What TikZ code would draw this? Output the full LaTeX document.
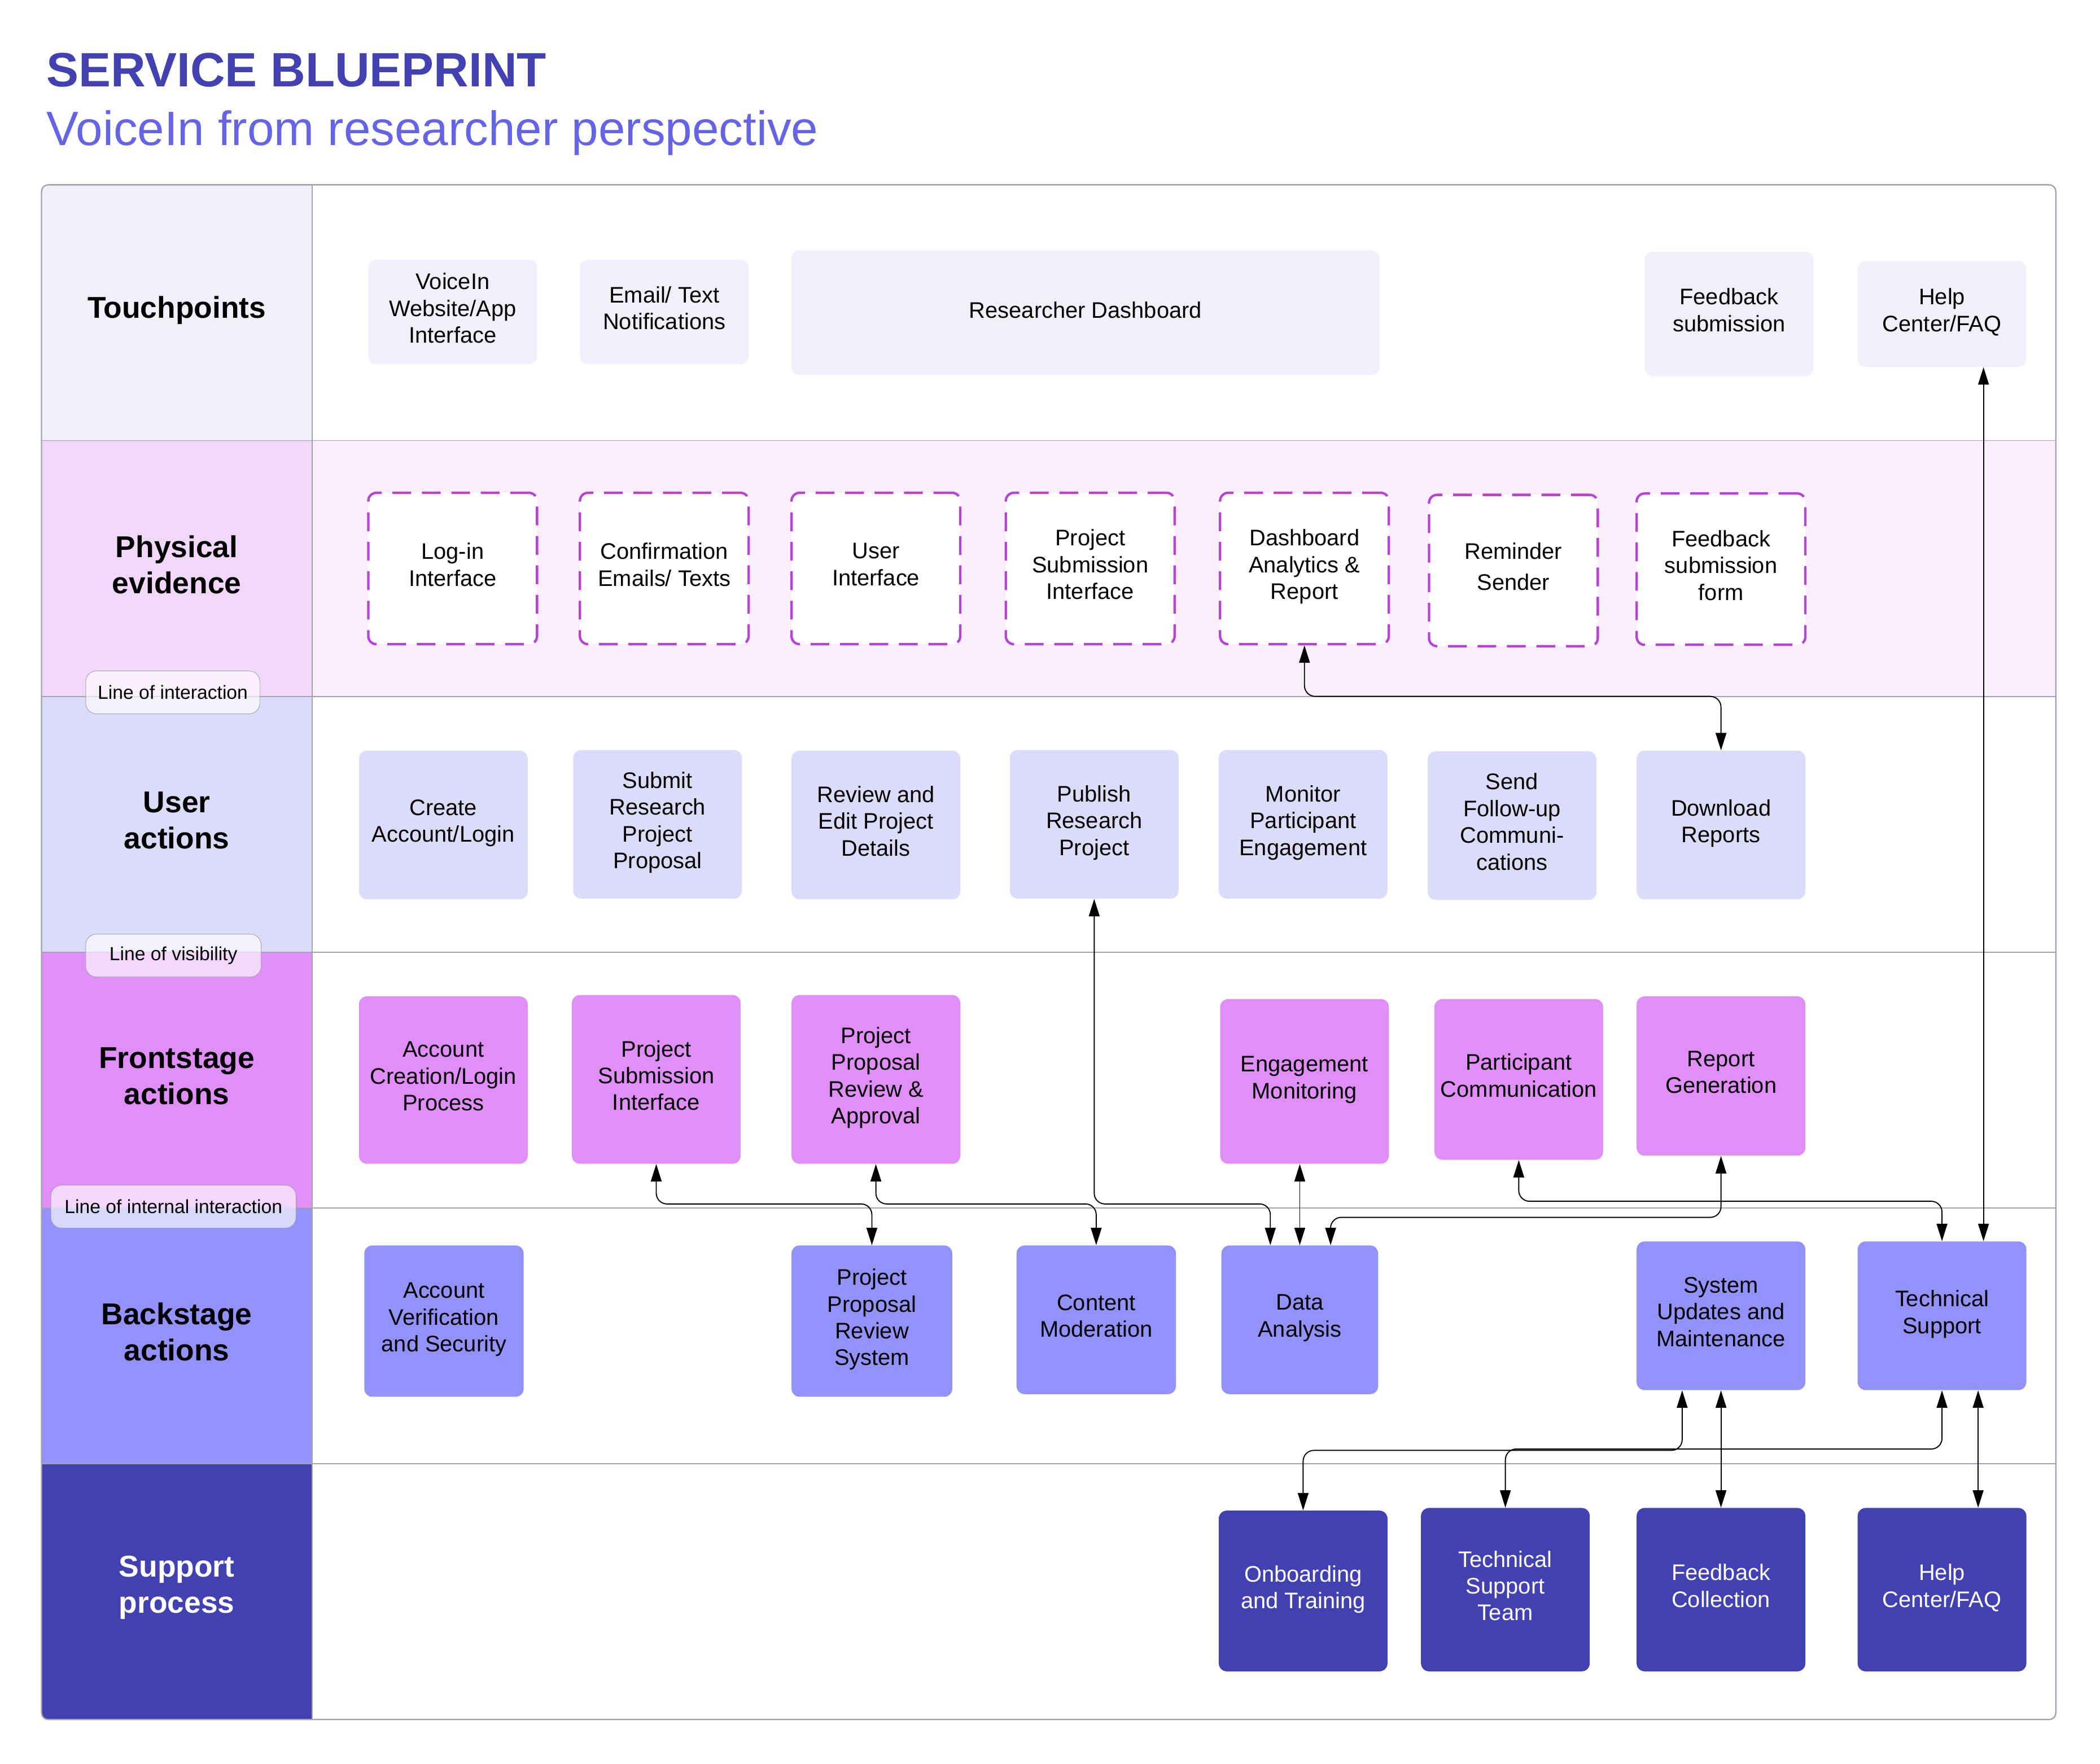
\documentclass[tikz,border=0pt]{standalone}
\usepackage{fontspec}
\setmainfont{Liberation Sans}
\usetikzlibrary{arrows.meta}

\definecolor{titlecol}{HTML}{4141B2}
\definecolor{subcol}{HTML}{6563E6}
\definecolor{gridcol}{HTML}{A3A3AE}
\definecolor{tpcol}{HTML}{F0F0FA}
\definecolor{pecol}{HTML}{F1D7FA}
\definecolor{pebg}{HTML}{FAEEFC}
\definecolor{pedash}{HTML}{B443D6}
\definecolor{uacol}{HTML}{DCDCFA}
\definecolor{fscol}{HTML}{E08FF8}
\definecolor{bscol}{HTML}{9292FA}
\definecolor{spcol}{HTML}{4141B2}

\tikzset{
  box/.style={rounded corners=6pt, align=center, inner sep=2pt,
    font=\fontsize{16.8}{20}\selectfont, minimum width=126pt,
    execute at end node=\strut},
  tpbox/.style={box, fill=tpcol},
  pebox/.style={box, fill=white, draw=pedash, line width=1.8pt,
    dash pattern=on 14pt off 8pt, minimum height=113pt},
  uabox/.style={box, fill=uacol, minimum height=111pt},
  fsbox/.style={box, fill=fscol},
  bsbox/.style={box, fill=bscol},
  spbox/.style={box, fill=spcol, text=white, minimum height=122pt},
  lane/.style={align=center, font=\fontsize{22.5}{27}\selectfont\bfseries},
  divider/.style={fill=white, fill opacity=0.65, text opacity=1, draw=gridcol,
    rounded corners=8pt, font=\fontsize{14.2}{16}\selectfont, minimum height=32pt},
  flow/.style={{Triangle[length=13pt,width=8pt]}-{Triangle[length=13pt,width=8pt]},
    line width=0.8pt, rounded corners=8pt}
}

\begin{document}
\begin{tikzpicture}[x=1pt, y=-1pt]
  \useasboundingbox (0,0) rectangle (1568,1317);

  \node[anchor=base west, inner sep=0pt, text=titlecol,
    font=\fontsize{36}{40}\selectfont\bfseries] (title) at (34.5,64.5) {SERVICE BLUEPRINT};
  \node[anchor=base west, inner sep=0pt, text=subcol,
    font=\fontsize{36}{40}\selectfont] (subtitle) at (34.5,108.5) {VoiceIn from researcher perspective};

  \begin{scope}
    \clip[rounded corners=5pt] (31,138) rectangle (1535,1284);
    \fill[tpcol] (31,138) rectangle (233,329);
    \fill[pecol] (31,329) rectangle (233,520);
    \fill[pebg] (233,329) rectangle (1535,520);
    \fill[uacol] (31,520) rectangle (233,711);
    \fill[fscol] (31,711) rectangle (233,902);
    \fill[bscol] (31,902) rectangle (233,1093);
    \fill[spcol] (31,1093) rectangle (233,1284);
  \end{scope}
  \foreach \y in {329,520,711,902,1093}
    \draw[gridcol, line width=0.7pt] (31,\y) -- (1535,\y);
  \draw[gridcol, line width=0.7pt] (233,138) -- (233,1284);
  \draw[gridcol, line width=1pt, rounded corners=5pt] (31,138) rectangle (1535,1284);

  \node[lane] (lTouch) at (132,231.5) {Touchpoints};
  \node[lane] (lPhys) at (132,421.5) {Physical\\evidence};
  \node[lane] (lUser) at (132,612.5) {User\\actions};
  \node[lane] (lFront) at (132,803.5) {Frontstage\\actions};
  \node[lane] (lBack) at (132,994.5) {Backstage\\actions};
  \node[lane, text=white] (lSupport) at (132,1185.5) {Support\\process};

  \node[divider, minimum width=130pt] (lineInter) at (129,517) {Line of interaction};
  \node[divider, minimum width=131pt] (lineVis) at (129.5,713.5) {Line of visibility};
  \node[divider, minimum width=183pt] (lineIntern) at (129.5,901) {Line of internal interaction};

  \node[tpbox, minimum height=78pt] (tpWeb) at (338,233) {VoiceIn\\Website/App\\Interface};
  \node[tpbox, minimum height=78pt] (tpMail) at (496,233) {Email/ Text\\Notifications};
  \node[tpbox, minimum width=439pt, minimum height=93pt] (tpDash) at (810.5,233.5) {Researcher Dashboard};
  \node[tpbox, minimum height=93pt] (tpFeed) at (1291,234.5) {Feedback\\submission};
  \node[tpbox, minimum height=79pt] (tpHelp) at (1450,234.5) {Help\\Center/FAQ};

  \node[pebox] (peLogin) at (338,424.5) {Log-in\\Interface};
  \node[pebox] (peConf) at (496,424.5) {Confirmation\\Emails/ Texts};
  \node[pebox] (peUI) at (654,424.5) {User\\Interface};
  \node[pebox] (peProj) at (814,424.5) {Project\\Submission\\Interface};
  \node[pebox] (peDash) at (974,424.5) {Dashboard\\Analytics \&\\Report};
  \node[pebox] (peRemind) at (1130,426) {Reminder\\[3pt]Sender};
  \node[pebox] (peFeed) at (1285,425) {Feedback\\submission\\form};

  \node[uabox] (uaCreate) at (331,616) {Create\\Account/Login};
  \node[uabox] (uaSubmit) at (491,615.5) {Submit\\Research\\Project\\Proposal};
  \node[uabox] (uaReview) at (654,616) {Review and\\Edit Project\\Details};
  \node[uabox] (uaPublish) at (817,615.5) {Publish\\Research\\Project};
  \node[uabox] (uaMonitor) at (973,615.5) {Monitor\\Participant\\Engagement};
  \node[uabox] (uaSend) at (1129,616.5) {Send\\Follow-up\\Communi-\\cations};
  \node[uabox] (uaDownload) at (1285,616) {Download\\Reports};

  \node[fsbox, minimum height=125pt] (fsAccount) at (331,806.5) {Account\\Creation/Login\\Process};
  \node[fsbox, minimum height=126pt] (fsSubmit) at (490,806) {Project\\Submission\\Interface};
  \node[fsbox, minimum height=126pt] (fsReview) at (654,806) {Project\\Proposal\\Review \&\\Approval};
  \node[fsbox, minimum height=123pt] (fsEngage) at (974,807.5) {Engagement\\Monitoring};
  \node[fsbox, minimum height=120pt] (fsComm) at (1134,806) {Participant\\Communication};
  \node[fsbox, minimum height=119pt] (fsReport) at (1285,803.5) {Report\\Generation};

  \node[bsbox, minimum width=119pt, minimum height=113pt] (bsAccount) at (331.5,986.5) {Account\\Verification\\and Security};
  \node[bsbox, minimum width=120pt, minimum height=113pt] (bsReview) at (651,986.5) {Project\\Proposal\\Review\\System};
  \node[bsbox, minimum width=119pt, minimum height=111pt] (bsContent) at (818.5,985.5) {Content\\Moderation};
  \node[bsbox, minimum width=117pt, minimum height=111pt] (bsData) at (970.5,985.5) {Data\\Analysis};
  \node[bsbox, minimum height=111pt] (bsSystem) at (1285,982.5) {System\\Updates and\\Maintenance};
  \node[bsbox, minimum height=111pt] (bsTech) at (1450,982.5) {Technical\\Support};

  \node[spbox, minimum height=120pt] (spOnboard) at (973,1188) {Onboarding\\and Training};
  \node[spbox] (spTeam) at (1124,1187) {Technical\\Support\\Team};
  \node[spbox] (spFeed) at (1285,1187) {Feedback\\Collection};
  \node[spbox] (spHelp) at (1450,1187) {Help\\Center/FAQ};

  \coordinate (daIn1) at ([xshift=-22pt]bsData.north);
  \coordinate (daIn3) at ([xshift=23pt]bsData.north);
  \coordinate (suIn) at ([xshift=-29pt]bsSystem.south);

  \draw[flow] (peDash.south) |- (uaDownload.north |- 0,520) -- (uaDownload.north);
  \draw[flow] (uaPublish.south) |- (daIn1 |- 0,899) -- (daIn1);
  \draw[flow] (fsSubmit.south) |- (bsReview.north |- 0,899) -- (bsReview.north);
  \draw[flow] (fsReview.south) |- (bsContent.north |- 0,899) -- (bsContent.north);
  \draw[flow] (fsReport.south) |- (daIn3 |- 0,909) -- (daIn3);
  \draw[flow] (fsComm.south) |- (bsTech.north |- 0,897) -- (bsTech.north);
  \draw[flow] (suIn) |- (spOnboard.north |- 0,1083) -- (spOnboard.north);
  \draw[flow] (bsTech.south) |- (spTeam.north |- 0,1082) -- (spTeam.north);
  \path[flow]
    ([xshift=31pt]tpHelp.south) edge ([xshift=31pt]bsTech.north)
    (bsData.north |- fsEngage.south) edge (bsData.north)
    (bsSystem.south) edge (spFeed.north)
    ([xshift=27pt]bsTech.south) edge ([xshift=27pt]spHelp.north);
\end{tikzpicture}
\end{document}
